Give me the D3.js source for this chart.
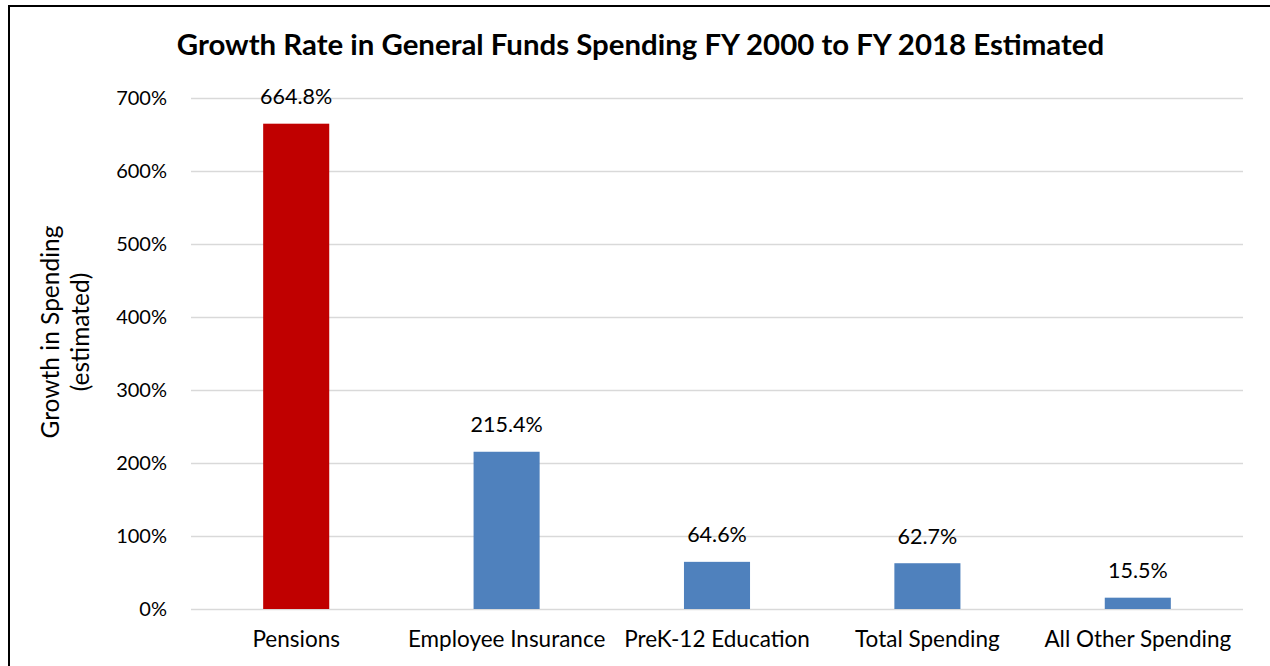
<!DOCTYPE html>
<html>
<head>
<meta charset="utf-8">
<script src="https://cdn.jsdelivr.net/npm/d3@7"></script>
<style>
  html, body { margin: 0; padding: 0; background: #fff; }
  svg { display: block; }
  text { font-family: Lato, "Open Sans", sans-serif; fill: #000; }
</style>
</head>
<body>
<svg id="chart" width="1270" height="666"></svg>
<script>
// Spending categories and their estimated growth, FY 2000 to FY 2018
const categories = ["Pensions", "Employee Insurance", "PreK-12 Education", "Total Spending", "All Other Spending"];
const growth = [664.8, 215.4, 64.6, 62.7, 15.5];
const barColors = ["#C00000", "#4F81BD", "#4F81BD", "#4F81BD", "#4F81BD"];
const yTicks = [0, 100, 200, 300, 400, 500, 600, 700];
const titleText = "Growth Rate in General Funds Spending FY 2000 to FY 2018 Estimated";
const yLabelLines = ["Growth in Spending", "(estimated)"];

const svg = d3.select("#chart");
const W = 1270, H = 666;
const plot = { left: 191, right: 1243, top: 98, bottom: 609 };
const FONT = "Lato, 'Open Sans', sans-serif";

// Chart frame (left and top edges)
svg.append("line").attr("x1", 9).attr("x2", 9).attr("y1", 5).attr("y2", H)
  .attr("stroke", "#000").attr("stroke-width", 2);
svg.append("line").attr("x1", 8).attr("x2", W).attr("y1", 6).attr("y2", 6)
  .attr("stroke", "#000").attr("stroke-width", 2);

const x = d3.scaleBand()
  .domain(categories)
  .range([plot.left, plot.right])
  .paddingInner(0.686)
  .paddingOuter(0.343);

const y = d3.scaleLinear()
  .domain([0, 700])
  .range([plot.bottom, plot.top]);

// Horizontal gridlines
svg.append("g")
  .selectAll("line")
  .data(yTicks)
  .join("line")
  .attr("x1", plot.left).attr("x2", plot.right)
  .attr("y1", d => Math.round(y(d)) + 0.5).attr("y2", d => Math.round(y(d)) + 0.5)
  .attr("stroke", "#D9D9D9").attr("stroke-width", 1.5);

// Y axis tick labels
const yAxis = d3.axisLeft(y).tickValues(yTicks).tickSize(0).tickPadding(24)
  .tickFormat(d => d + "%");
svg.append("g")
  .attr("transform", `translate(${plot.left},0)`)
  .call(yAxis)
  .call(g => g.select(".domain").remove())
  .selectAll("text")
  .attr("font-family", FONT)
  .attr("font-size", 20)
  .attr("fill", "#000");

// Bars
svg.append("g")
  .selectAll("rect")
  .data(categories)
  .join("rect")
  .attr("x", d => x(d))
  .attr("width", x.bandwidth())
  .attr("y", (d, i) => y(growth[i]))
  .attr("height", (d, i) => y(0) - y(growth[i]))
  .attr("fill", (d, i) => barColors[i]);

// Value labels above bars
svg.append("g")
  .selectAll("text")
  .data(categories)
  .join("text")
  .attr("x", d => x(d) + x.bandwidth() / 2)
  .attr("y", (d, i) => y(growth[i]) - 19.5)
  .attr("text-anchor", "middle")
  .attr("font-size", 21.5)
  .text((d, i) => growth[i].toFixed(1) + "%");

// Category labels
const xAxis = d3.axisBottom(x).tickSize(0).tickPadding(0);
svg.append("g")
  .attr("transform", `translate(0,${plot.bottom})`)
  .call(xAxis)
  .call(g => g.select(".domain").remove())
  .selectAll("text")
  .attr("dy", null)
  .attr("y", 37.5)
  .attr("font-family", FONT)
  .attr("font-size", 22.5)
  .attr("fill", "#000");

// Title
svg.append("text")
  .attr("x", 640.5)
  .attr("y", 55)
  .attr("text-anchor", "middle")
  .attr("font-size", 29.4)
  .attr("font-weight", "bold")
  .text(titleText);

// Y axis title, two lines rotated
const yl = svg.append("text")
  .attr("transform", "translate(0,332) rotate(-90)")
  .attr("text-anchor", "middle")
  .attr("font-size", 24.5);
yl.selectAll("tspan")
  .data(yLabelLines)
  .join("tspan")
  .attr("x", 0)
  .attr("y", (d, i) => 59 + i * 30)
  .text(d => d);
</script>
</body>
</html>
